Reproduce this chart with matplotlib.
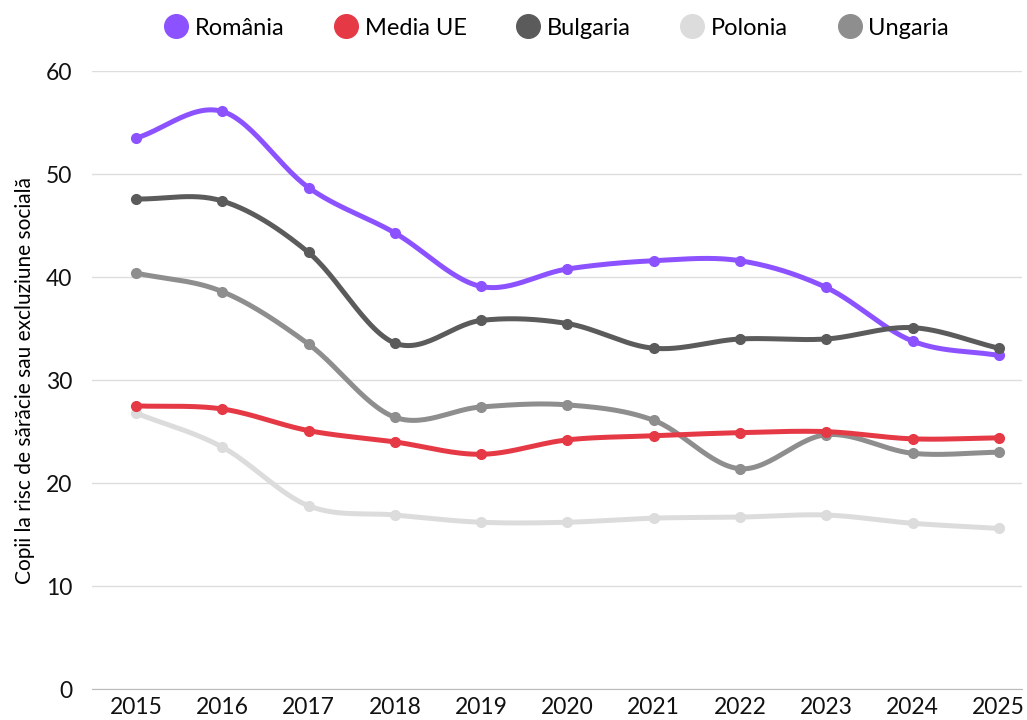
import matplotlib.pyplot as plt
import numpy as np

# data
years = [2015, 2016, 2017, 2018, 2019, 2020, 2021, 2022, 2023, 2024, 2025]
romania = [53.5, 56.1, 48.7, 44.3, 39.1, 40.8, 41.6, 41.6, 39.0, 33.8, 32.4]
media_ue = [27.5, 27.2, 25.1, 24.0, 22.8, 24.2, 24.6, 24.9, 25.0, 24.3, 24.4]
bulgaria = [47.6, 47.4, 42.4, 33.6, 35.8, 35.5, 33.1, 34.0, 34.0, 35.1, 33.1]
polonia = [26.8, 23.5, 17.8, 16.9, 16.2, 16.2, 16.6, 16.7, 16.9, 16.1, 15.6]
ungaria = [40.4, 38.6, 33.5, 26.4, 27.4, 27.6, 26.1, 21.4, 24.7, 22.9, 23.0]

series = [
    ('România', romania, '#8c52ff', 3),
    ('Media UE', media_ue, '#e63946', 3),
    ('Bulgaria', bulgaria, '#5b5b5b', 3),
    ('Polonia', polonia, '#dcdcdc', 1),
    ('Ungaria', ungaria, '#8e8e8e', 2),
]


def smooth(x, y, n=30):
    # catmull-rom spline through the points, just for drawing
    x = np.asarray(x, float)
    y = np.asarray(y, float)
    px = np.concatenate([[2*x[0]-x[1]], x, [2*x[-1]-x[-2]]])
    py = np.concatenate([[2*y[0]-y[1]], y, [2*y[-1]-y[-2]]])
    xs, ys = [], []
    t = np.linspace(0, 1, n)
    for i in range(1, len(px)-2):
        for p, out in ((px, xs), (py, ys)):
            p0, p1, p2, p3 = p[i-1], p[i], p[i+1], p[i+2]
            out.extend(0.5*((2*p1) + (-p0+p2)*t + (2*p0-5*p1+4*p2-p3)*t**2
                            + (-p0+3*p1-3*p2+p3)*t**3))
    return np.array(xs), np.array(ys)


plt.rcParams['font.family'] = ['Lato', 'DejaVu Sans']

fig = plt.figure(figsize=(10.27, 7.2), dpi=100)
ax = fig.add_axes([0.0896, 0.043, 0.9056, 0.858])

for name, vals, col, z in series:
    sx, sy = smooth(years, vals)
    ax.plot(sx, sy, color=col, lw=3.6, solid_capstyle='round', zorder=z)
    ax.plot(years, vals, 'o', color=col, ms=7, zorder=z)
    ax.plot([], [], 'o', color=col, ms=17, label=name)

ax.set_xlim(2014.49, 2025.27)
ax.set_ylim(0, 60)
ax.set_yticks(np.arange(0, 61, 10))
ax.set_xticks(years)
ax.tick_params(axis='both', length=0, labelsize=16.5, colors='#111111')
ax.tick_params(axis='y', pad=14)
ax.tick_params(axis='x', pad=6)
ax.grid(axis='y', color='#dddddd', lw=1)
ax.set_axisbelow(True)
for s in ['top', 'right', 'left']:
    ax.spines[s].set_visible(False)
ax.spines['bottom'].set_color('#bbbbbb')

ax.set_ylabel('Copii la risc de sărăcie sau excluziune socială', fontsize=15, labelpad=8)

fig.legend(loc='upper center', bbox_to_anchor=(0.542, 1.005), ncol=5, frameon=False,
           fontsize=17, handletextpad=0.3, columnspacing=2.1, handlelength=1.0)

plt.savefig('out.png', dpi=100)
